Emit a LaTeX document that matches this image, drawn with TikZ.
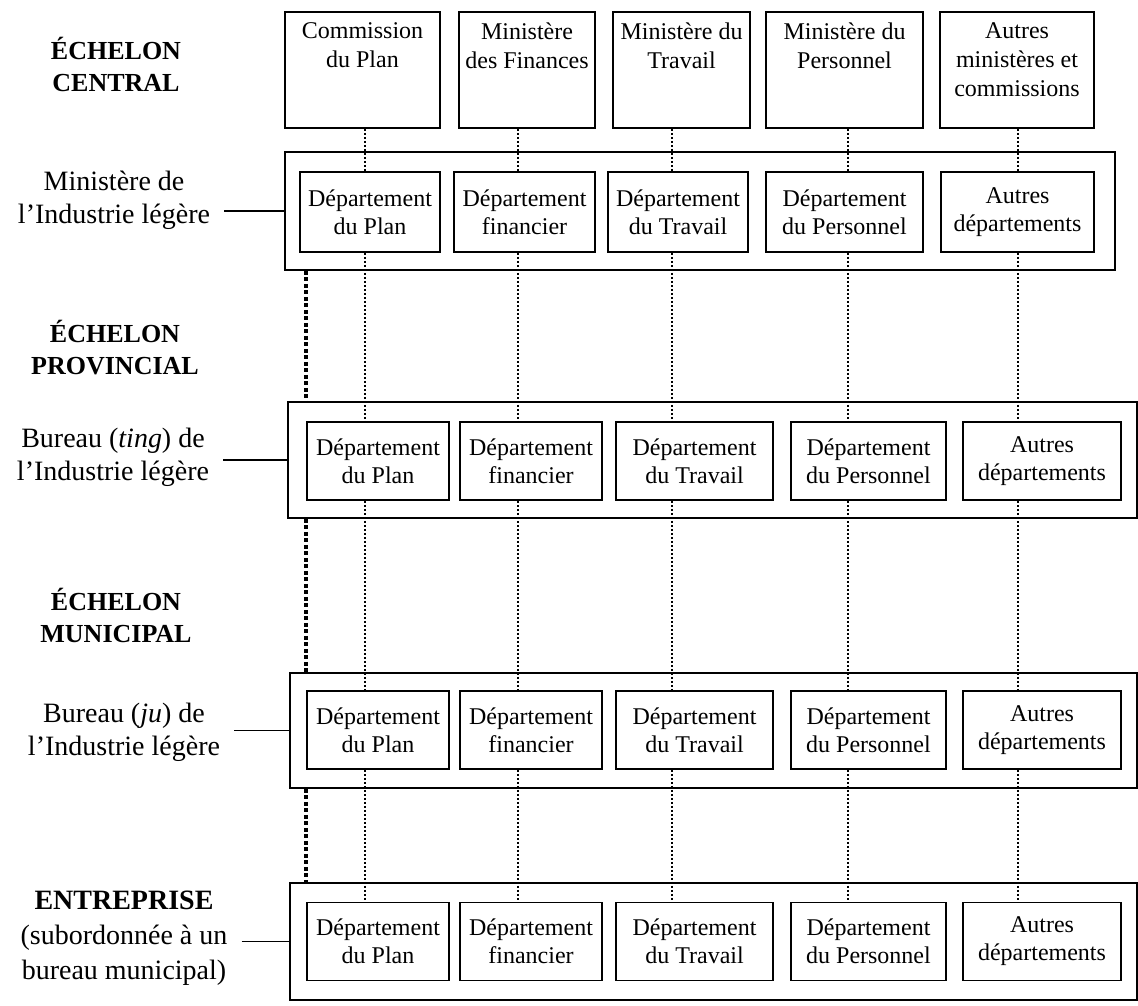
\documentclass[tikz,border=0pt]{standalone}
\usepackage{fontspec}
\setmainfont{Liberation Serif}
\usetikzlibrary{calc}

\tikzset{
  box/.style={draw, line width=1.6pt, inner sep=2pt, align=center, minimum height=78, font=\fontsize{24}{28}\selectfont},
  outerbox/.style={draw, line width=1.6pt, inner sep=0pt},
  boxtext/.style={inner sep=0pt, align=center, font=\fontsize{24}{29}\selectfont},
  lbl/.style={align=center, inner xsep=14pt, font=\fontsize{28}{33}\selectfont},
  heading/.style={align=center, font=\fontsize{26}{32}\selectfont\bfseries},
  vline/.style={line width=1.5pt, dash pattern=on 2pt off 2pt},
  authline/.style={line width=3.5pt, dash pattern=on 4pt off 2.5pt},
  tie/.style={line width=1.8pt}
}

\begin{document}
\begin{tikzpicture}[x=1pt, y=-1pt]
\useasboundingbox (0,0) rectangle (1138,1006);

\node[heading] (hcen) at (116,64) {ÉCHELON\\CENTRAL};
\node[heading] (hprov) at (115,348) {ÉCHELON\\PROVINCIAL};
\node[heading] (hmun) at (116,615) {ÉCHELON\\MUNICIPAL};

\node[lbl] (lmin) at (114,200) {Ministère de\\l'Industrie légère};
\node[lbl] (lprov) at (113,457) {Bureau (\textit{ting}) de\\l'Industrie légère};
\node[lbl] (lmun) at (124,732) {Bureau (\textit{ju}) de\\l'Industrie légère};
\node[lbl, font=\fontsize{28}{35}\selectfont] (lent) at (124,938) {\textbf{ENTREPRISE}\\(subordonnée à un\\bureau municipal)};

\foreach \i/\x/\w/\t in {1/362.5/155/{Commission\\du Plan}, 2/527/136/{Ministère\\des Finances}, 3/681.5/137/{Ministère du\\Travail}, 4/844.5/157/{Ministère du\\Personnel}, 5/1017/154/{Autres\\ministères et\\commissions}} {
  \node[box, minimum width=\w, minimum height=116] (t\i) at (\x,70) {};
  \node[boxtext, anchor=north, yshift=-11] (tt\i) at (t\i.north) {\t};
}

\node[outerbox, minimum width=830, minimum height=118] (mo) at (700,211) {};
\node[outerbox, minimum width=849, minimum height=116] (po) at (712.5,460) {};
\node[outerbox, minimum width=847, minimum height=115] (uo) at (713.5,730.5) {};
\node[outerbox, minimum width=847, minimum height=117] (eo) at (713.5,941.5) {};

\foreach \i/\x/\w/\t in {1/370/140/{Département\\du Plan}, 2/524.5/141/{Département\\financier}, 3/678/140/{Département\\du Travail}, 4/844.5/157/{Département\\du Personnel}, 5/1017.5/153/{Autres\\départements}}
  \node[box, minimum width=\w, minimum height=80] (m\i) at (\x,212) {\t};

\foreach \r/\y in {p/461, u/730, e/941.5}
  \foreach \i/\x/\w/\t in {1/378/142/{Département\\du Plan}, 2/531/142/{Département\\financier}, 3/694.5/157/{Département\\du Travail}, 4/868.5/155/{Département\\du Personnel}, 5/1042/158/{Autres\\départements}}
    \node[box, minimum width=\w] (\r\i) at (\x,\y) {\t};

\draw[tie] (lmin.east |- mo.west) -- (mo.west);
\draw[tie] (lprov.east |- po.west) -- (po.west);
\draw[tie] (lmun.east |- uo.west) -- (uo.west);
\draw[tie] (lent.east |- eo.west) -- (eo.west);

\foreach \i/\x in {1/365, 2/518, 3/672, 4/848, 5/1018} {
  \coordinate (c\i) at (\x,0);
  \draw[vline] (t\i.south -| c\i) -- (m\i.north -| c\i);
  \draw[vline] (m\i.south -| c\i) -- (p\i.north -| c\i);
  \draw[vline] (p\i.south -| c\i) -- (u\i.north -| c\i);
  \draw[vline] (u\i.south -| c\i) -- (e\i.north -| c\i);
}

\coordinate (a) at (306,0);
\draw[authline] (mo.south -| a) -- (po.north -| a);
\draw[authline] (po.south -| a) -- (uo.north -| a);
\draw[authline] (uo.south -| a) -- (eo.north -| a);
\end{tikzpicture}
\end{document}
